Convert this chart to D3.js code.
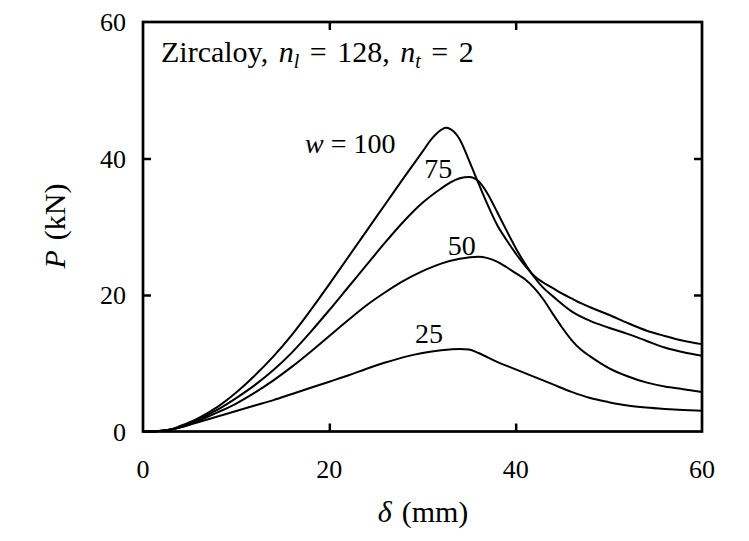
<!DOCTYPE html>
<html>
<head>
<meta charset="utf-8">
<script src="https://cdn.jsdelivr.net/npm/d3@7"></script>
<style>
  html, body { margin: 0; padding: 0; background: #fff; }
</style>
</head>
<body>
<svg id="chart" width="749" height="541"></svg>
<script>
// ---- data ----
const deltaW100 = [0,1,2,3,4,6,8,10,12,14,16,18,20,22,24,26,28,30,31,32,32.5,33,34,35,36,37,38,39,40,41,42,43,44,45,46,47,48,50,52,54,56,58,60];
const loadW100  = [0,0,0.1,0.3,0.8,2.0,3.6,5.7,8.2,11.0,14.2,17.8,21.6,25.5,29.4,33.3,37.2,41.0,42.9,44.2,44.5,44.3,42.8,39.7,36.4,33.2,30.3,28.1,26.1,24.3,22.8,21.8,21.0,20.2,19.5,18.8,18.2,17.1,15.9,14.8,14.0,13.3,12.8];

const deltaW75 = [0,1,2,3,4,6,8,10,12,14,16,18,20,22,24,26,28,30,32,33,34,35,36,37,38,39,40,41,42,43,44,46,48,50,52,54,56,58,60];
const loadW75  = [0,0,0.1,0.3,0.7,1.8,3.2,4.9,6.8,9.0,11.6,14.6,17.8,21.1,24.4,27.7,30.8,33.5,35.6,36.5,37.1,37.3,36.7,34.8,32.2,29.5,26.9,24.6,22.6,21.0,19.8,17.6,16.2,15.2,14.3,13.3,12.3,11.6,11.1];

const deltaW50 = [0,1,2,3,4,6,8,10,12,14,16,18,20,22,24,26,28,30,32,34,36,37,38,39,40,41,42,43,44,45,46,47,48,49,50,52,54,56,58,60];
const loadW50  = [0,0,0.1,0.3,0.6,1.6,2.8,4.1,5.7,7.5,9.5,11.7,14.0,16.3,18.5,20.4,22.1,23.5,24.6,25.3,25.6,25.4,24.9,24.1,23.2,22.3,21.0,19.3,17.2,15.2,13.4,12.0,11.0,10.1,9.3,8.1,7.2,6.6,6.2,5.8];

const deltaW25 = [0,1,2,3,4,6,8,10,12,14,16,18,20,22,24,26,28,30,32,34,35,36,38,40,42,44,46,48,50,52,54,56,58,60];
const loadW25  = [0,0,0.1,0.3,0.6,1.4,2.2,3.0,3.8,4.6,5.5,6.4,7.3,8.2,9.2,10.1,10.9,11.5,11.9,12.1,12.0,11.5,10.2,9.1,8.0,6.9,5.8,4.9,4.3,3.8,3.5,3.3,3.15,3.05];

const curveNames  = ["w = 100", "75", "50", "25"];
const labelDelta  = [17.4, 30.2, 32.7, 29.2];   // anchor (start) of each curve label, data units
const labelLoad   = [40.8, 37.2, 25.9, 13.0];

const xTicks = [0, 20, 40, 60];
const yTicks = [0, 20, 40, 60];
const xLabel = "(mm)";
const yLabel = "(kN)";

// ---- layout ----
const FONT = "'Liberation Serif', Tinos, 'Times New Roman', 'DejaVu Serif', serif";
const svg = d3.select("#chart").attr("font-family", FONT);
const pL = 143, pR = 702, pT = 22, pB = 431.5;
const x = d3.scaleLinear().domain([0, 60]).range([pL, pR]);
const y = d3.scaleLinear().domain([0, 60]).range([pB, pT]);

const series = [
  {x: deltaW100, y: loadW100},
  {x: deltaW75,  y: loadW75},
  {x: deltaW50,  y: loadW50},
  {x: deltaW25,  y: loadW25}
];

const line = d3.line()
  .x(d => x(d[0]))
  .y(d => y(d[1]))
  .curve(d3.curveMonotoneX);

svg.append("g").selectAll("path")
  .data(series)
  .join("path")
  .attr("d", s => line(s.x.map((v, i) => [v, s.y[i]])))
  .attr("fill", "none")
  .attr("stroke", "#000")
  .attr("stroke-width", 2);

// axes (inward ticks)
const tickLen = 8;
const axB = d3.axisBottom(x).tickValues([20, 40]).tickSize(-tickLen).tickFormat("");
const axT = d3.axisTop(x).tickValues([20, 40]).tickSize(-tickLen).tickFormat("");
const axL = d3.axisLeft(y).tickValues([20, 40]).tickSize(-tickLen).tickFormat("");
const axR = d3.axisRight(y).tickValues([20, 40]).tickSize(-tickLen).tickFormat("");

function styleAxis(g) {
  g.select(".domain").remove();
  g.selectAll(".tick line").attr("stroke", "#000").attr("stroke-width", 2.5);
}
svg.append("g").attr("transform", `translate(0,${pB})`).call(axB).call(styleAxis);
svg.append("g").attr("transform", `translate(0,${pT})`).call(axT).call(styleAxis);
svg.append("g").attr("transform", `translate(${pL},0)`).call(axL).call(styleAxis);
svg.append("g").attr("transform", `translate(${pR},0)`).call(axR).call(styleAxis);

// frame
svg.append("rect")
  .attr("x", pL).attr("y", pT)
  .attr("width", pR - pL).attr("height", pB - pT)
  .attr("fill", "none").attr("stroke", "#000").attr("stroke-width", 2.7);

// tick labels
const fs = 26;
svg.append("g").selectAll("text")
  .data(xTicks)
  .join("text")
  .attr("font-family", FONT)
  .attr("x", d => x(d))
  .attr("y", pB + 46)
  .attr("text-anchor", "middle")
  .attr("font-size", fs)
  .text(d => d);

svg.append("g").selectAll("text")
  .data(yTicks)
  .join("text")
  .attr("font-family", FONT)
  .attr("x", pL - 17)
  .attr("y", d => y(d) + 9)
  .attr("text-anchor", "end")
  .attr("font-size", fs)
  .text(d => d);

// axis titles
const xt = svg.append("text")
  .attr("font-family", FONT)
  .attr("x", 423).attr("y", 522)
  .attr("text-anchor", "middle")
  .attr("font-size", 30);
xt.append("tspan").attr("font-style", "italic").text("δ");
xt.append("tspan").attr("dx", 10).text(xLabel);

const yt = svg.append("text")
  .attr("font-family", FONT)
  .attr("transform", "translate(65,226) rotate(-90)")
  .attr("text-anchor", "middle")
  .attr("font-size", 30);
yt.append("tspan").attr("font-style", "italic").text("P");
yt.append("tspan").attr("dx", 10).text(yLabel);

// title
const tt = svg.append("text")
  .attr("font-family", FONT)
  .attr("x", 161).attr("y", 62)
  .attr("font-size", 30)
  .attr("word-spacing", 3);
tt.append("tspan").text("Zircaloy, ");
tt.append("tspan").attr("font-style", "italic").text("n");
tt.append("tspan").attr("font-style", "italic").attr("font-size", 20).attr("dy", 6).text("l");
tt.append("tspan").attr("dy", -6).text(" = 128, ");
tt.append("tspan").attr("font-style", "italic").text("n");
tt.append("tspan").attr("font-style", "italic").attr("font-size", 20).attr("dy", 6).text("t");
tt.append("tspan").attr("dy", -6).text(" = 2");

// curve labels
svg.append("g").selectAll("text")
  .data(curveNames)
  .join("text")
  .attr("font-family", FONT)
  .attr("x", (d, i) => x(labelDelta[i]))
  .attr("y", (d, i) => y(labelLoad[i]))
  .attr("font-size", 28)
  .each(function(d) {
    const t = d3.select(this);
    if (d.startsWith("w")) {
      t.append("tspan").attr("font-style", "italic").text("w");
      t.append("tspan").text(d.slice(1));
    } else {
      t.text(d);
    }
  });
</script>
</body>
</html>
